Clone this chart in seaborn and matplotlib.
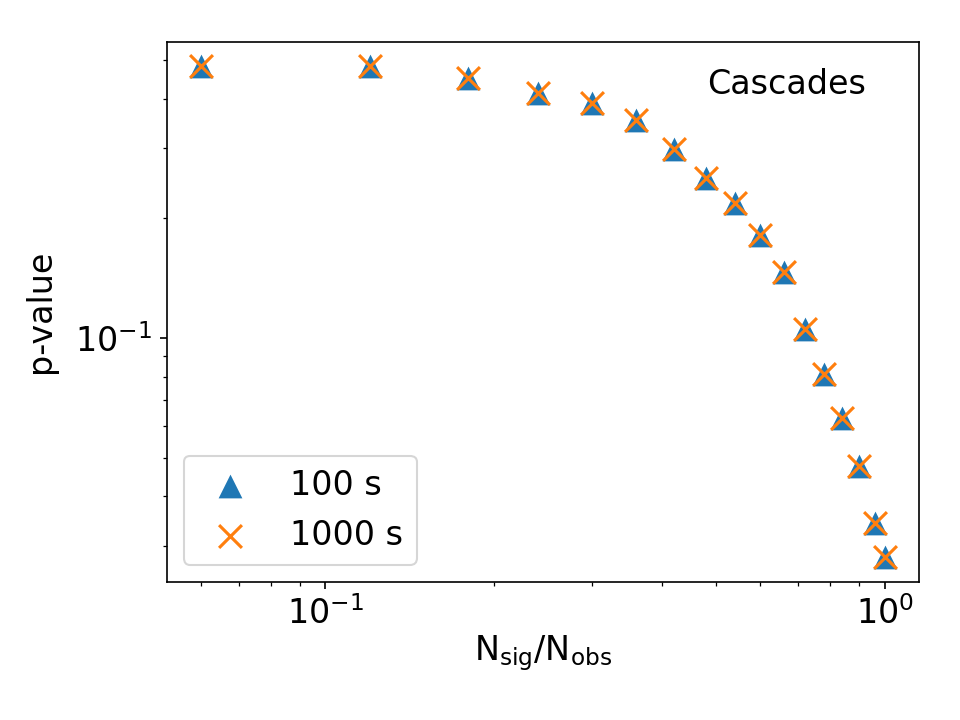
import matplotlib
matplotlib.use('Agg')
import matplotlib.pyplot as plt
import seaborn as sns

# fraction of signal events vs p-value
frac = [0.06, 0.12, 0.18, 0.24, 0.30, 0.36, 0.42, 0.48, 0.54,
        0.60, 0.66, 0.72, 0.78, 0.84, 0.90, 0.96, 1.00]
pval_100 = [0.482, 0.482, 0.451, 0.412, 0.389, 0.354, 0.298, 0.252, 0.219,
            0.1815, 0.1466, 0.1052, 0.0810, 0.0629, 0.0476, 0.0342, 0.0281]
pval_1000 = [0.482, 0.482, 0.451, 0.412, 0.389, 0.354, 0.298, 0.252, 0.219,
             0.1815, 0.1466, 0.1052, 0.0810, 0.0629, 0.0476, 0.0342, 0.0281]

plt.rcParams['font.size'] = 16

fig, ax = plt.subplots(figsize=(6.4, 4.8), dpi=150)
sns.scatterplot(x=frac, y=pval_100, marker='^', s=130, color='C0',
                linewidth=0, label='100 s', ax=ax)
sns.scatterplot(x=frac, y=pval_1000, marker='x', s=120, color='C1',
                linewidth=1.5, label='1000 s', ax=ax)
ax.set_xscale('log')
ax.set_yscale('log')
ax.set_xlabel(r'N$_{\rm sig}$/N$_{\rm obs}$', labelpad=1)
ax.set_ylabel('p-value', labelpad=9)
ax.text(0.93, 0.92, 'Cascades', transform=ax.transAxes, ha='right', va='center')
ax.legend(loc='lower left')
fig.subplots_adjust(left=0.174, right=0.957, top=0.942, bottom=0.192)
plt.savefig('out.png')
